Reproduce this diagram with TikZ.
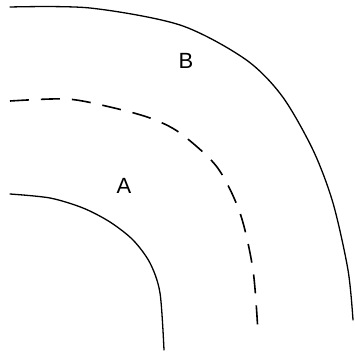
\documentclass[tikz,border=0pt]{standalone}
\usepackage{fontspec}
\setmainfont{Liberation Sans}
\begin{document}
\begin{tikzpicture}[x=1pt,y=-1pt,
  curve/.style={line width=1.3pt, line cap=round},
  dashcurve/.style={line width=1.6pt, dash pattern=on 19pt off 12pt},
  lbl/.style={font=\fontsize{22}{26}\selectfont, inner sep=0pt}]
\useasboundingbox (0,0) rectangle (355,356);
\draw[curve] plot[smooth, tension=0.5] coordinates {(10,7) (90,8) (180,25) (245,59) (282,96) (313,150) (333,203) (348,270) (353,320)};
\draw[dashcurve] plot[smooth, tension=0.5] coordinates {(10,101) (67,99) (110,107) (150,118) (180,133) (217,167) (240,213) (253,270) (258,333)};
\draw[curve] plot[smooth, tension=0.5] coordinates {(10,194) (50,198) (83,208) (110,222) (133,240) (150,263) (160,293) (164,350)};
\node[lbl] (A) at (124,186) {A};
\node[lbl] (B) at (186,61) {B};
\end{tikzpicture}
\end{document}
